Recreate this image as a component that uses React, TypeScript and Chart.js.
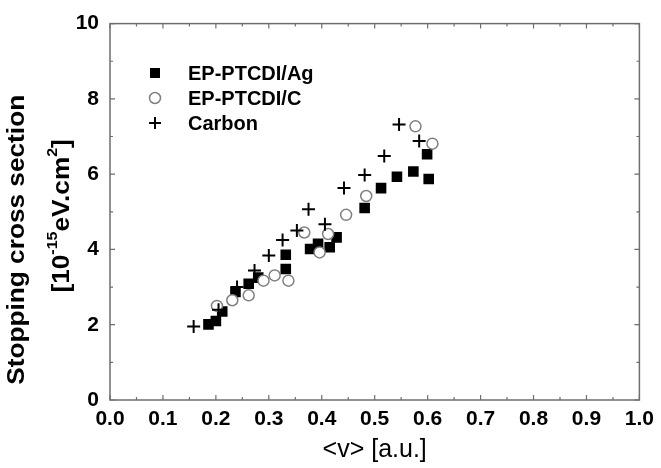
import React, { useEffect, useRef } from "react";
import { Chart, registerables } from "chart.js";

Chart.register(...registerables);

// EP-PTCDI/Ag (filled squares)
const agX = [0.186, 0.200, 0.212, 0.237, 0.262, 0.280, 0.332, 0.332, 0.378, 0.393, 0.415, 0.428, 0.481, 0.512, 0.542, 0.573, 0.602, 0.599];
const agY = [2.01, 2.10, 2.35, 2.87, 3.09, 3.25, 3.48, 3.86, 4.01, 4.15, 4.06, 4.32, 5.10, 5.63, 5.93, 6.07, 5.87, 6.53];

// EP-PTCDI/C (open circles)
const cX = [0.202, 0.231, 0.262, 0.290, 0.311, 0.337, 0.367, 0.396, 0.412, 0.446, 0.484, 0.577, 0.609];
const cY = [2.50, 2.65, 2.78, 3.17, 3.31, 3.17, 4.45, 3.92, 4.41, 4.92, 5.42, 7.27, 6.81];

// Carbon (crosses)
const carbonX = [0.158, 0.205, 0.240, 0.273, 0.300, 0.326, 0.353, 0.375, 0.406, 0.442, 0.481, 0.518, 0.546, 0.584];
const carbonY = [1.95, 2.40, 3.00, 3.44, 3.84, 4.25, 4.50, 5.07, 4.67, 5.63, 5.98, 6.48, 7.32, 6.88];

const seriesNames = ["EP-PTCDI/Ag", "EP-PTCDI/C", "Carbon"];
const xTitle = "<v> [a.u.]";
const yTitleLine1 = "Stopping cross section";
const yTitleParts = [
  { t: "[10", sup: false },
  { t: "-15", sup: true },
  { t: "eV.cm", sup: false },
  { t: "2", sup: true },
  { t: "]", sup: false },
];

const FONT = "'Liberation Sans', Arial, sans-serif";

const toPts = (xs: number[], ys: number[]) => xs.map((x, i) => ({ x, y: ys[i] }));

const framePlugin = {
  id: "frameTicks",
  afterDraw(chart: any) {
    const { ctx, chartArea } = chart;
    const { left, right, top, bottom } = chartArea;
    const xs = chart.scales.x;
    const ys = chart.scales.y;
    ctx.save();
    ctx.strokeStyle = "#6e6e6e";
    ctx.lineWidth = 1.5;
    ctx.strokeRect(left, top, right - left, bottom - top);
    ctx.lineWidth = 1.2;
    ctx.beginPath();
    for (let i = 0; i <= 20; i++) {
      const v = i * 0.05;
      const px = xs.getPixelForValue(v);
      const len = i % 2 === 0 ? 5 : 3;
      ctx.moveTo(px, bottom);
      ctx.lineTo(px, bottom - len);
      ctx.moveTo(px, top);
      ctx.lineTo(px, top + len);
    }
    for (let i = 0; i <= 10; i++) {
      const py = ys.getPixelForValue(i);
      const len = i % 2 === 0 ? 5 : 3;
      ctx.moveTo(left, py);
      ctx.lineTo(left + len, py);
      ctx.moveTo(right, py);
      ctx.lineTo(right - len, py);
    }
    ctx.stroke();

    // Y axis title (two lines, second with superscripts)
    const cy = (top + bottom) / 2 + 28;
    ctx.translate(18, cy);
    ctx.rotate(-Math.PI / 2);
    ctx.scale(1.14, 1);
    ctx.fillStyle = "#000";
    ctx.textBaseline = "middle";
    ctx.textAlign = "left";
    const mainFont = `bold 23px ${FONT}`;
    const supFont = `bold 14px ${FONT}`;
    ctx.font = mainFont;
    const w1 = ctx.measureText(yTitleLine1).width;
    ctx.fillText(yTitleLine1, -w1 / 2, 0);
    let total = 0;
    const widths = yTitleParts.map((p) => {
      ctx.font = p.sup ? supFont : mainFont;
      const w = ctx.measureText(p.t).width;
      total += w;
      return w;
    });
    let u = -total / 2 + 21;
    yTitleParts.forEach((p, i) => {
      ctx.font = p.sup ? supFont : mainFont;
      ctx.fillText(p.t, u, 45 + (p.sup ? -10 : 0));
      u += widths[i];
    });
    ctx.restore();

    // Legend
    ctx.save();
    const lx = 155;
    const rows = [73, 98, 123];
    chart.data.datasets.forEach((ds: any, i: number) => {
      const y = rows[i];
      ctx.save();
      if (ds.pointStyle === "rect") {
        ctx.fillStyle = "#000";
        ctx.fillRect(lx - 5, y - 5, 10, 10);
      } else if (ds.pointStyle === "circle") {
        ctx.strokeStyle = "#808080";
        ctx.lineWidth = 1.5;
        ctx.fillStyle = "#fff";
        ctx.beginPath();
        ctx.arc(lx, y, 5.5, 0, Math.PI * 2);
        ctx.fill();
        ctx.stroke();
      } else {
        ctx.strokeStyle = "#000";
        ctx.lineWidth = 2;
        ctx.beginPath();
        ctx.moveTo(lx - 6, y);
        ctx.lineTo(lx + 6, y);
        ctx.moveTo(lx, y - 6);
        ctx.lineTo(lx, y + 6);
        ctx.stroke();
      }
      ctx.restore();
      ctx.fillStyle = "#000";
      ctx.font = `bold 20px ${FONT}`;
      ctx.textBaseline = "middle";
      ctx.textAlign = "left";
      ctx.fillText(ds.label, 188, y + 1);
    });
    ctx.restore();
  },
};

export default function App() {
  const ref = useRef<HTMLCanvasElement | null>(null);
  useEffect(() => {
    if (!ref.current) return;
    const chart = new Chart(ref.current, {
      type: "scatter",
      data: {
        datasets: [
          {
            label: seriesNames[0],
            data: toPts(agX, agY),
            pointStyle: "rect",
            pointRadius: 7.5,
            backgroundColor: "#000",
            borderColor: "#000",
            borderWidth: 0,
            order: 3,
          },
          {
            label: seriesNames[1],
            data: toPts(cX, cY),
            pointStyle: "circle",
            pointRadius: 5.5,
            backgroundColor: "#fff",
            borderColor: "#808080",
            borderWidth: 1.5,
            order: 2,
          },
          {
            label: seriesNames[2],
            data: toPts(carbonX, carbonY),
            pointStyle: "cross",
            pointRadius: 6.5,
            backgroundColor: "#000",
            borderColor: "#000",
            borderWidth: 2,
            order: 1,
          },
        ],
      },
      options: {
        animation: false,
        responsive: false,
        devicePixelRatio: 1,
        layout: { padding: { top: 23, right: 17, left: 0, bottom: 0 } },
        plugins: { legend: { display: false }, tooltip: { enabled: false } },
        scales: {
          x: {
            type: "linear",
            min: 0,
            max: 1,
            grid: { display: false, drawTicks: false },
            border: { display: false },
            ticks: {
              stepSize: 0.1,
              padding: 7,
              color: "#000",
              font: { family: FONT, size: 21, weight: "bold" },
              callback: (v: any) => Number(v).toFixed(1),
              maxRotation: 0,
              autoSkip: false,
            },
            title: {
              display: true,
              text: xTitle,
              color: "#000",
              font: { family: FONT, size: 25 },
              padding: { top: 0, bottom: 3 },
            },
            afterFit: (s: any) => {
              s.height = 68;
            },
          },
          y: {
            type: "linear",
            min: 0,
            max: 10,
            grid: { display: false, drawTicks: false },
            border: { display: false },
            ticks: {
              stepSize: 2,
              padding: 11,
              color: "#000",
              font: { family: FONT, size: 21, weight: "bold" },
            },
            afterFit: (s: any) => {
              s.width = 110;
            },
          },
        },
      },
      plugins: [framePlugin],
    } as any);
    return () => chart.destroy();
  }, []);
  return (
    <div style={{ position: "absolute", left: 0, top: 0, width: 661, height: 468, background: "#fff" }}>
      <canvas ref={ref} width={661} height={468} />
    </div>
  );
}
